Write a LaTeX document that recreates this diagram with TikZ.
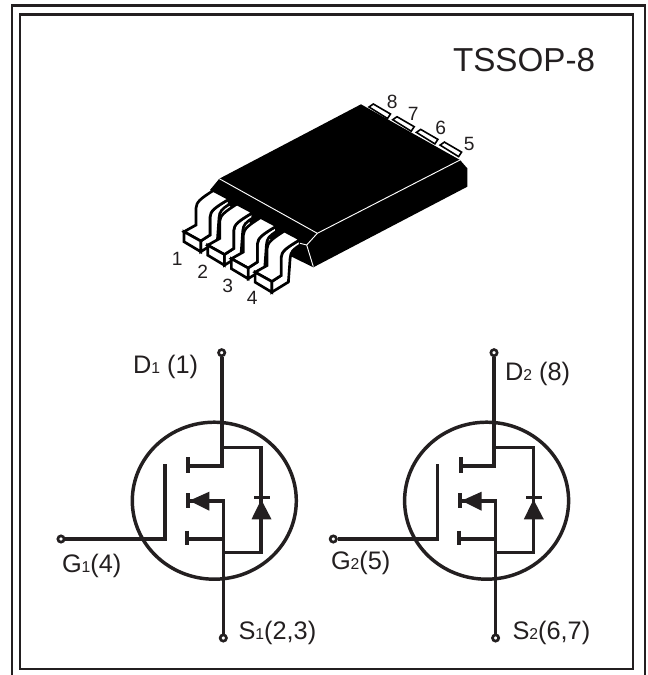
\documentclass[tikz,border=0pt]{standalone}
\usepackage{fontspec}
\setmainfont{Liberation Sans}
\definecolor{inkdark}{RGB}{35,31,32}
\newcommand{\subnum}[1]{{\fontsize{11.8}{13}\selectfont #1}}
\tikzset{every picture/.style={line width=0.75pt}}
\tikzset{
  frameline/.style={color=inkdark,line width=1.9pt},
  leadline/.style={draw=black,fill=white,line width=2pt,line join=miter},
  padline/.style={draw=black,fill=white,line width=1.2pt,line join=miter},
  whiteline/.style={draw=white,line width=0.7pt},
  ring/.style={draw=inkdark,line width=2.6pt},
  wire/.style={draw=inkdark,line width=2.7pt},
  thinwire/.style={draw=inkdark,line width=2.4pt},
  platebar/.style={draw=inkdark,line width=3pt},
  terminal/.style={circle,draw=inkdark,fill=white,line width=2pt,inner sep=0pt,minimum size=4.7pt},
  pinlabel/.style={font=\fontsize{14.4}{16}\selectfont,text=inkdark,inner sep=0pt},
  pinname/.style={anchor=base west,font=\fontsize{19}{21}\selectfont,text=inkdark,inner sep=0pt}
}

\begin{document}
\begin{tikzpicture}[x=0.75pt,y=0.75pt,yscale=-1,xscale=1]
        \useasboundingbox (0,0) rectangle (648,675);

        %Frame
        \draw [frameline] (12,675) -- (12,5.5) -- (645,5.5) -- (645,675) ;
        \draw [frameline,line width=2.2pt] (20,14.3) rectangle (633,669) ;

        %Pads on the back side
        \foreach \n in {0,...,3}
          \draw [padline,shift={(23.7*\n,12.7*\n)}] (369,107) -- (373.3,104) -- (390.5,114) -- (387.5,118.5) -- cycle ;

        %Shape: package body
        \fill [black] (219.3,178.7) -- (361,104.3) -- (460,160) -- (467.3,168.3) -- (467.3,186.7) -- (313.3,267.3) -- (291.7,256.7) -- (210,190) -- cycle ;

        %Shape: leads
        \foreach \n in {0,...,3}
        {
          \begin{scope}[shift={(23.7*\n,13.5*\n)}]
            \draw [leadline] (200.7,241) -- (210,235) -- (210,217) .. controls (210.5,211) and (214,208) .. (229.3,199) -- (229,204.5) .. controls (222,209) and (219.5,211) .. (219,218) -- (217.3,241.5) -- (200.7,251.7) -- cycle ;
            \draw [leadline] (213.3,190.5) -- (229.3,199) .. controls (214,208) and (210.5,211) .. (210,217) -- (210,235) -- (200.7,241) -- (184,231.7) -- (196,225) -- (196,208) .. controls (196.5,202) and (200,199) .. (213.3,190.5) -- cycle ;
            \draw [leadline] (184,231.7) -- (184,241.7) -- (200.7,251.7) -- (200.7,241) -- cycle ;
          \end{scope}
        }

        %Straight Lines on the body
        \draw [whiteline] (219.3,178.7) -- (317.3,233.3) -- (460,160) ;
        \draw [whiteline] (317.3,233.3) -- (306.7,245) -- (313.3,266.7) ;
        \draw [whiteline] (306.7,245) -- (300,243.3) ;

        % Text Node
        \node (title) [anchor=base west,font=\fontsize{24.9}{28}\selectfont,text=inkdark,inner sep=0pt] at (452.5,71.5) {TSSOP-8};
        % Text Node
        \node (pin8) [pinlabel] at (392.3,101.7) {8};
        \node (pin7) [pinlabel] at (413.3,114.3) {7};
        \node (pin6) [pinlabel] at (440.7,127.7) {6};
        \node (pin5) [pinlabel] at (469.3,144) {5};
        \node (pin1) [pinlabel] at (177.3,258.7) {1};
        \node (pin2) [pinlabel] at (202.7,271.7) {2};
        \node (pin3) [pinlabel] at (227.7,286) {3};
        \node (pin4) [pinlabel] at (252.3,298.3) {4};

        %MOSFET symbols
        \foreach \n/\dx in {1/0,2/272.3}
        {
          \begin{scope}[shift={(\dx,0)}]
            \draw [ring] (214.3,500.7) ellipse (82 and 78.5) ;
            \node (d\n) [terminal] at (221.7,352.7) {};
            \node (s\n) [terminal] at (223.3,638) {};
            \node (g\n) [terminal] at (61,539) {};
            \coordinate (dplate\n) at (188.3,466);
            \coordinate (dturn\n) at (221.7,466);
            \coordinate (mplate\n) at (188.3,500.7);
            \coordinate (mturn\n) at (223.3,500.7);
            \coordinate (gturn\n) at (165,539);
            \coordinate (gtop\n) at (165,464);
            %Drain and source
            \draw [wire] (d\n) -- (dturn\n) -- (dplate\n) ;
            \draw [wire] (s\n) -- (mturn\n) -- (mplate\n) ;
            \draw [wire] (186.7,539) -- (223.3,539) ;
            %Gate
            \draw [thinwire] (g\n) -- (gturn\n) -- (gtop\n) ;
            %Channel plates
            \draw [platebar] (188.3,457.3) -- (188.3,472.7) ;
            \draw [platebar] (187.7,493.3) -- (187.7,508.3) ;
            \draw [platebar] (186.7,530.7) -- (186.7,545.3) ;
            \fill [inkdark] (189.3,500.7) -- (209.3,491.7) -- (209.3,510.7) -- cycle ;
            %Diode
            \draw [thinwire] (221.7,447.7) -- (261,447.7) -- (261,552.7) -- (223.3,552.7) ;
            \draw [thinwire] (254,497.7) -- (270,497.7) ;
            \fill [inkdark] (261.2,499.5) -- (251.5,519.3) -- (271.5,519.3) -- cycle ;
          \end{scope}
        }

        % Text Node
        \node (d1label) [pinname] at (132.5,373.3) {D\subnum{1} (1)};
        \node (g1label) [pinname] at (61.5,572.7) {G\subnum{1}(4)};
        \node (s1label) [pinname] at (238,639.5) {S\subnum{1}(2,3)};
        \node (d2label) [pinname] at (504.5,380.7) {D\subnum{2} (8)};
        \node (g2label) [pinname] at (330.5,569.3) {G\subnum{2}(5)};
        \node (s2label) [pinname] at (512,639.5) {S\subnum{2}(6,7)};

\end{tikzpicture}
\end{document}
